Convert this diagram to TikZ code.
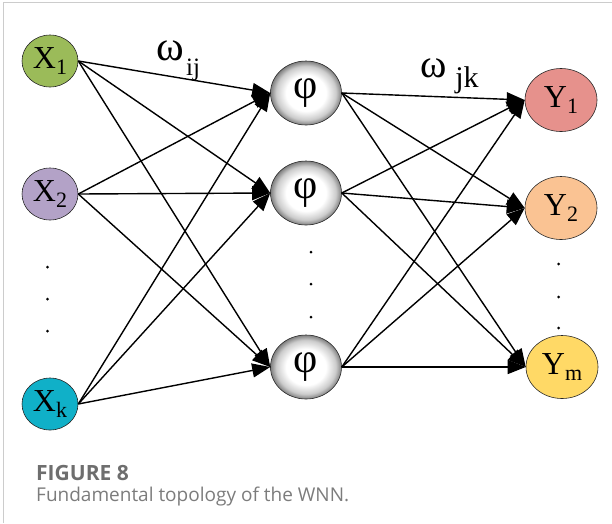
\documentclass[tikz,border=0pt]{standalone}
\usepackage{fontspec}
\setmainfont{Liberation Serif}
\newfontfamily\capfont{Open Sans}
\usetikzlibrary{arrows.meta,shapes.geometric}

% soft grey glow for the hidden (wavelet) units
\pgfdeclareradialshading{phiglow}{\pgfpoint{0bp}{0bp}}{%
  color(0bp)=(white); color(14bp)=(white); color(21bp)=(black!20);
  color(25bp)=(black!50); color(50bp)=(black!50)}

\definecolor{xone}{HTML}{9BBB59}
\definecolor{xtwo}{HTML}{B3A2C7}
\definecolor{xkay}{HTML}{10B0C8}
\definecolor{yone}{HTML}{E6918C}
\definecolor{ytwo}{HTML}{FAC393}
\definecolor{yemm}{HTML}{FFD966}
\definecolor{framegray}{HTML}{CCCCCC}
\definecolor{capgray}{HTML}{6E6E6E}
\definecolor{capgraylt}{HTML}{7C7C7C}

\newcommand\sublab[2]{#1\raisebox{-0.17em}{\fontsize{22}{22}\selectfont #2}}

\begin{document}
\begin{tikzpicture}[x=1pt,y=-1pt,
  unit/.style={ellipse, draw=black!85, line width=0.6pt, inner sep=0pt,
    font=\fontsize{32}{32}\selectfont},
  inunit/.style={unit, minimum width=56pt, minimum height=52pt},
  hidunit/.style={unit, shading=phiglow, minimum width=71pt, minimum height=64pt,
    font=\fontsize{42}{42}\selectfont},
  outunit/.style={unit, minimum width=72pt, minimum height=63pt},
  link/.style={line width=1.4pt, -{Triangle[length=18pt,width=14pt]}},
  dotmark/.style={circle, fill=black, inner sep=0pt, minimum size=3pt},
  wlabel/.style={inner sep=0pt}]

\useasboundingbox (0,0) rectangle (612,523);
\draw[framegray, line width=1.5pt] (3.5,523) -- (3.5,2.5) -- (612,2.5);

% input layer
\node[inunit, fill=xone] (x1) at (50,61)  {\sublab{X}{1}};
\node[inunit, fill=xtwo] (x2) at (50,194) {\sublab{X}{2}};
\node[inunit, fill=xkay] (xk) at (50,404) {\sublab{X}{k}};

% hidden layer
\node[hidunit] (h1) at (306,93)  {φ};
\node[hidunit] (h2) at (306,193) {φ};
\node[hidunit] (h3) at (306,367) {φ};

% output layer
\node[outunit, fill=yone] (y1) at (561,100) {\sublab{Y}{1}};
\node[outunit, fill=ytwo] (y2) at (561,208) {\sublab{Y}{2}};
\node[outunit, fill=yemm] (ym) at (562,367) {\sublab{Y}{m}};

% ellipsis dots
\foreach \i/\y in {1/267,2/299,3/331} \node[dotmark] (ldot\i) at (47.5,\y) {};
\foreach \i/\y in {1/252,2/284,3/317} \node[dotmark] (mdot\i) at (311,\y) {};
\foreach \i/\y in {1/264,2/297,3/328} \node[dotmark] (rdot\i) at (558.5,\y) {};

% connections input -> hidden
\foreach \s in {x1,x2,xk}
  \foreach \t in {h1,h2,h3}
    \draw[link] (\s.east) -- (\t.west);

% connections hidden -> output
\foreach \s in {h1,h2,h3}
  \foreach \t in {y1,y2,ym}
    \draw[link] (\s.east) -- (\t.west);

% weight labels
\node[wlabel, font=\fontsize{42}{42}\selectfont] (wij) at (170,51) {ω};
\node[wlabel, font=\fontsize{25}{25}\selectfont] (ij)  at (193,70) {ij};
\node[wlabel, font=\fontsize{40}{40}\selectfont] (wjk) at (434,68) {ω};
\node[wlabel, font=\fontsize{30}{30}\selectfont] (jk)  at (467,80) {jk};

% caption
\node[anchor=base west, inner sep=0pt, text=capgray,
  font=\capfont\bfseries\fontsize{21}{21}\selectfont] (figno) at (36,480) {FIGURE 8};
\node[anchor=base west, inner sep=0pt, text=capgraylt,
  font=\capfont\fontsize{19}{19}\selectfont] (figcap) at (36,501.5) {Fundamental topology of the WNN.};
\end{tikzpicture}
\end{document}
